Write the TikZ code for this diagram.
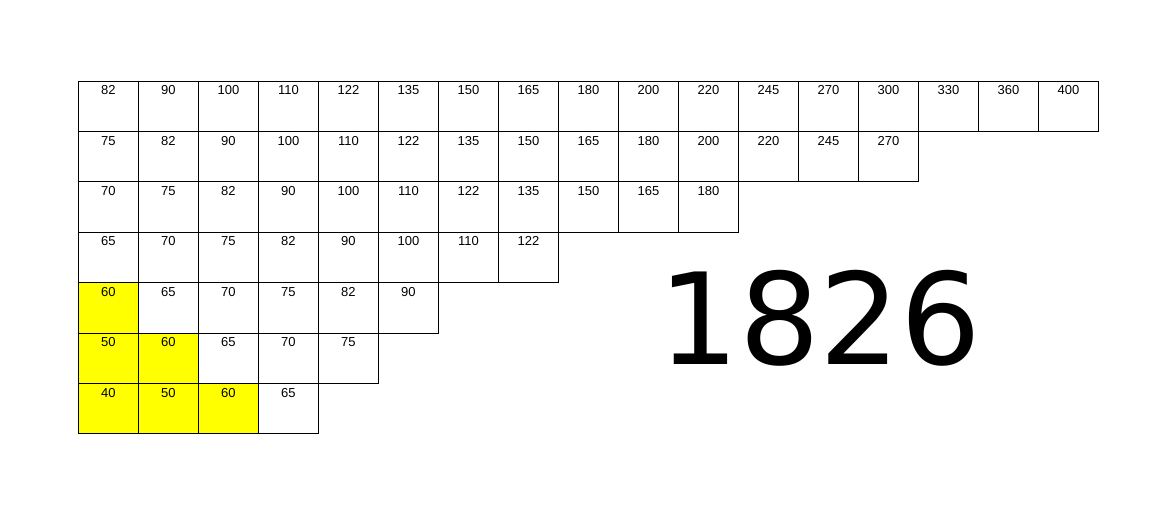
\documentclass[tikz,border=0pt]{standalone}
\usepackage{fontspec}
\setmainfont{Liberation Sans}
\newfontfamily\bigfont{DejaVu Sans}
\definecolor{hotyellow}{RGB}{255,255,0}

\tikzstyle{cell} = [draw, rectangle, minimum width=60pt, minimum height=50.4pt, inner sep=0pt, anchor=north west, line width=0.8pt]
\tikzstyle{celltext} = [font=\fontsize{13}{13}\selectfont, anchor=north, inner sep=0pt]
\tikzstyle{total} = [font=\bigfont\fontsize{127}{127}\selectfont, inner sep=0pt]

\begin{document}
\begin{tikzpicture}[x=1pt, y=-1pt]
  \useasboundingbox (0,0) rectangle (1174,527);

  % rows of the table, the first cells of the lower rows are yellow
  \foreach \row/\vals in {1/{82,90,100,110,122,135,150,165,180,200,220,245,270,300,330,360,400},
                          2/{75,82,90,100,110,122,135,150,165,180,200,220,245,270},
                          3/{70,75,82,90,100,110,122,135,150,165,180},
                          4/{65,70,75,82,90,100,110,122},
                          5/{60,65,70,75,82,90},
                          6/{50,60,65,70,75},
                          7/{40,50,60,65}} {
    \foreach \v [count=\c] in \vals {
      \ifnum\c<\numexpr\row-3\relax \def\cellfill{hotyellow}\else \def\cellfill{white}\fi
      \node [cell, fill=\cellfill] (c-\row-\c) at ({78+60*(\c-1)}, {80.5+50.4*(\row-1)}) {};
      \node [celltext] (t-\row-\c) at ([yshift=-5pt]c-\row-\c.north) {\v};
    }
  }

  \node [total] (sum) at (820,318) {1826};
\end{tikzpicture}
\end{document}
